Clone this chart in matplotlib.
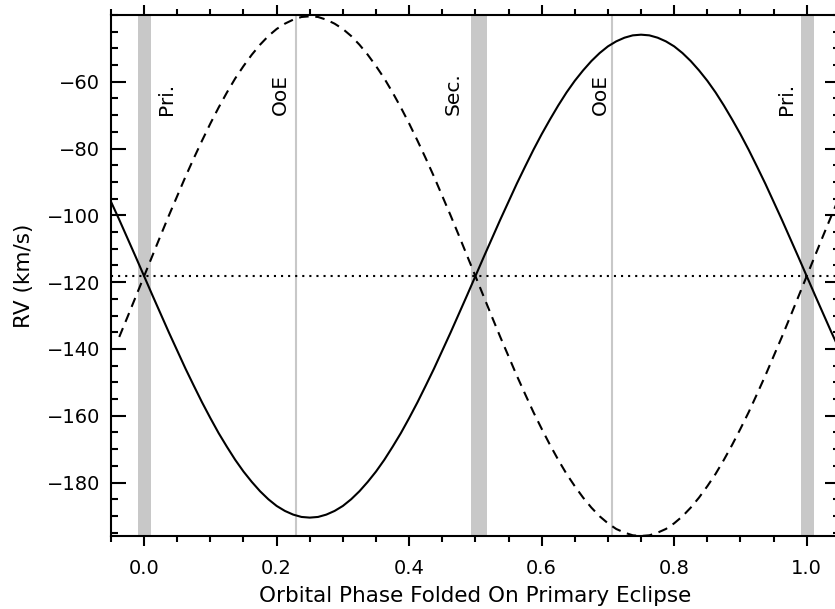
import matplotlib.pyplot as plt
from matplotlib.ticker import MultipleLocator, FormatStrFormatter

# orbital phase and radial velocities (km/s)
phase = [-0.05, -0.0375, -0.025, -0.0125, 0.0, 0.0125, 0.025, 0.0375, 0.05, 0.0625,
         0.075, 0.0875, 0.1, 0.1125, 0.125, 0.1375, 0.15, 0.1625, 0.175, 0.1875,
         0.2, 0.2125, 0.225, 0.2375, 0.25, 0.2625, 0.275, 0.2875, 0.3, 0.3125,
         0.325, 0.3375, 0.35, 0.3625, 0.375, 0.3875, 0.4, 0.4125, 0.425, 0.4375,
         0.45, 0.4625, 0.475, 0.4875, 0.5, 0.5125, 0.525, 0.5375, 0.55, 0.5625,
         0.575, 0.5875, 0.6, 0.6125, 0.625, 0.6375, 0.65, 0.6625, 0.675, 0.6875,
         0.7, 0.7125, 0.725, 0.7375, 0.75, 0.7625, 0.775, 0.7875, 0.8, 0.8125,
         0.825, 0.8375, 0.85, 0.8625, 0.875, 0.8875, 0.9, 0.9125, 0.925, 0.9375,
         0.95, 0.9625, 0.975, 0.9875, 1.0, 1.0125, 1.025, 1.0375, 1.05]
rv_primary = [-95.9, -101.3, -106.9, -112.5, -118.2, -123.9, -129.5, -135.1, -140.5, -145.9,
              -151.0, -156.0, -160.7, -165.2, -169.3, -173.2, -176.7, -179.8, -182.6, -185.0,
              -187.0, -188.5, -189.6, -190.3, -190.5, -190.3, -189.6, -188.5, -187.0, -185.0,
              -182.6, -179.8, -176.7, -173.2, -169.3, -165.2, -160.7, -156.0, -151.0, -145.9,
              -140.5, -135.1, -129.5, -123.9, -118.2, -112.5, -106.9, -101.3, -95.9, -90.5,
              -85.4, -80.4, -75.7, -71.3, -67.1, -63.2, -59.7, -56.6, -53.8, -51.4,
              -49.4, -47.9, -46.8, -46.1, -45.9, -46.1, -46.8, -47.9, -49.4, -51.4,
              -53.8, -56.6, -59.7, -63.2, -67.1, -71.3, -75.7, -80.4, -85.4, -90.5,
              -95.9, -101.3, -106.9, -112.5, -118.2, -123.9, -129.5, -135.1, -140.5]
rv_secondary = [None, -136.4, -130.4, -124.3, -118.2, -112.1, -106.0, -100.0, -94.2, -88.4,
                -82.9, -77.6, -72.5, -67.7, -63.2, -59.0, -55.3, -51.9, -48.9, -46.3,
                -44.2, -42.6, -41.4, -40.6, -40.4, -40.6, -41.4, -42.6, -44.2, -46.3,
                -48.9, -51.9, -55.3, -59.0, -63.2, -67.7, -72.5, -77.6, -82.9, -88.4,
                -94.2, -100.0, -106.0, -112.1, -118.2, -124.3, -130.4, -136.4, -142.2, -148.0,
                -153.5, -158.9, -163.9, -168.7, -173.2, -177.4, -181.1, -184.5, -187.5, -190.1,
                -192.2, -193.9, -195.0, -195.8, -196.0, -195.8, -195.0, -193.9, -192.2, -190.1,
                -187.5, -184.5, -181.1, -177.4, -173.2, -168.7, -163.9, -158.9, -153.5, -148.0,
                -142.2, -136.4, -130.4, -124.3, -118.2, -112.1, -106.0, -100.0, -94.2]
gamma = -118.2

# eclipse windows (phase start, end) and out-of-eclipse markers
eclipses = [(-0.0095, 0.0100), (0.4930, 0.5170), (0.9910, 1.0105)]
ooe_phases = [0.229, 0.706]

# rotated labels: (phase, text)
labels = [(0.034, "Pri."), (0.205, "OoE"), (0.466, "Sec."), (0.688, "OoE"), (0.970, "Pri.")]

plt.rcParams['font.family'] = ['DejaVu Sans']

fig = plt.figure(figsize=(8.35, 6.09), dpi=100)
ax = fig.add_axes([0.1329, 0.1199, 0.8729, 0.8555])

for a, b in eclipses:
    ax.axvspan(a, b, color='#c8c8c8', lw=0, zorder=1)
for p in ooe_phases:
    ax.axvline(p, color='#c8c8c8', lw=1.5, zorder=1)

ax.axhline(gamma, color='black', lw=1.5, dashes=(1.0, 2.4), zorder=2)
ax.plot(phase, rv_primary, color='black', lw=1.5, zorder=3)
sec_ph = [p for p, v in zip(phase, rv_secondary) if v is not None]
sec_rv = [v for v in rv_secondary if v is not None]
ax.plot(sec_ph, sec_rv, color='black', lw=1.5, dashes=(4.6, 3.2), zorder=3)

for p, t in labels:
    ax.text(p, -70, t, rotation=90, ha='center', va='bottom', fontsize=14.5)

ax.set_xlim(-0.05, 1.05)
ax.set_ylim(-196, -40)
ax.set_xticks([0.0, 0.2, 0.4, 0.6, 0.8, 1.0])
ax.xaxis.set_major_formatter(FormatStrFormatter('%.1f'))
ax.xaxis.set_minor_locator(MultipleLocator(0.05))
ax.set_yticks([-180, -160, -140, -120, -100, -80, -60])
ax.yaxis.set_minor_locator(MultipleLocator(5))

ax.tick_params(axis='both', which='both', labelsize=14)
ax.tick_params(axis='x', which='both', direction='out', top=True, width=1.5, pad=9)
ax.tick_params(axis='x', which='major', length=7.5)
ax.tick_params(axis='x', which='minor', length=4)
ax.tick_params(axis='y', which='both', direction='in', right=True, width=1.5, pad=8)
ax.tick_params(axis='y', which='major', length=11)
ax.tick_params(axis='y', which='minor', length=5)
for s in ax.spines.values():
    s.set_linewidth(1.5)

ax.set_xlabel("Orbital Phase Folded On Primary Eclipse", fontsize=15.5, labelpad=6)
ax.set_ylabel("RV (km/s)", fontsize=15.5, labelpad=9)

fig.savefig("out.png", dpi=100)
